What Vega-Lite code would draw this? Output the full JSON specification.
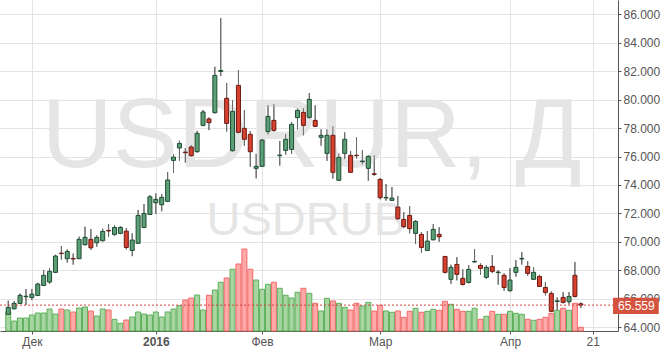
{
  "$schema": "https://vega.github.io/schema/vega-lite/v6.json",
  "width": 618,
  "height": 331,
  "autosize": {"type": "none"},
  "padding": {"left": 0, "top": 0, "right": 46, "bottom": 22},
  "background": "white",
  "config": {"view": {"stroke": null}, "font": "Liberation Sans"},
  "datasets": {
    "ohlc": [
      {"i":0,"o":64.91,"h":65.87,"l":64.88,"c":65.40,"v":19.3},
      {"i":1,"o":65.30,"h":65.84,"l":65.26,"c":65.68,"v":10},
      {"i":2,"o":65.68,"h":66.38,"l":65.63,"c":66.24,"v":13},
      {"i":3,"o":66.15,"h":66.69,"l":65.56,"c":66.18,"v":13},
      {"i":4,"o":66.10,"h":66.69,"l":65.91,"c":66.33,"v":16},
      {"i":5,"o":66.24,"h":67.13,"l":66.19,"c":67.04,"v":18},
      {"i":6,"o":66.94,"h":68.02,"l":66.90,"c":67.65,"v":18},
      {"i":7,"o":67.18,"h":68.16,"l":67.06,"c":67.93,"v":22},
      {"i":8,"o":67.86,"h":69.10,"l":67.81,"c":69.01,"v":17},
      {"i":9,"o":69.21,"h":69.71,"l":68.75,"c":69.18,"v":22},
      {"i":10,"o":68.82,"h":69.47,"l":68.54,"c":69.33,"v":21},
      {"i":11,"o":68.84,"h":69.19,"l":68.40,"c":68.80,"v":19},
      {"i":12,"o":68.82,"h":70.37,"l":68.80,"c":70.18,"v":23},
      {"i":13,"o":69.80,"h":71.07,"l":69.76,"c":70.32,"v":24},
      {"i":14,"o":70.18,"h":70.90,"l":69.45,"c":69.59,"v":20},
      {"i":15,"o":69.94,"h":70.46,"l":69.66,"c":70.32,"v":15},
      {"i":16,"o":70.08,"h":70.93,"l":70.04,"c":70.74,"v":22},
      {"i":17,"o":70.81,"h":71.26,"l":70.36,"c":70.77,"v":21},
      {"i":18,"o":70.53,"h":71.19,"l":70.41,"c":71.02,"v":11.7},
      {"i":19,"o":70.60,"h":71.11,"l":70.55,"c":71.02,"v":7.7},
      {"i":20,"o":70.76,"h":70.97,"l":69.47,"c":69.61,"v":11},
      {"i":21,"o":69.40,"h":70.60,"l":69.00,"c":70.13,"v":14},
      {"i":22,"o":69.90,"h":72.24,"l":69.88,"c":71.86,"v":19},
      {"i":23,"o":71.02,"h":72.66,"l":70.97,"c":72.00,"v":17},
      {"i":24,"o":71.93,"h":73.29,"l":71.89,"c":73.17,"v":16},
      {"i":25,"o":72.75,"h":73.41,"l":71.96,"c":72.99,"v":19},
      {"i":26,"o":72.61,"h":73.36,"l":72.15,"c":73.13,"v":14},
      {"i":27,"o":72.85,"h":74.91,"l":72.80,"c":74.35,"v":19},
      {"i":28,"o":75.73,"h":76.17,"l":74.86,"c":75.96,"v":22},
      {"i":29,"o":76.60,"h":77.11,"l":75.71,"c":76.92,"v":25.3},
      {"i":30,"o":76.31,"h":76.60,"l":75.57,"c":76.27,"v":31},
      {"i":31,"o":76.67,"h":76.81,"l":75.99,"c":76.06,"v":33},
      {"i":32,"o":76.34,"h":77.81,"l":76.27,"c":77.63,"v":36},
      {"i":33,"o":78.19,"h":79.27,"l":78.12,"c":79.13,"v":21},
      {"i":34,"o":78.64,"h":78.75,"l":77.86,"c":78.38,"v":35.7},
      {"i":35,"o":79.08,"h":82.31,"l":79.03,"c":81.70,"v":41},
      {"i":36,"o":81.98,"h":85.73,"l":81.66,"c":82.05,"v":48.7},
      {"i":37,"o":80.09,"h":81.17,"l":77.75,"c":78.33,"v":53},
      {"i":38,"o":76.41,"h":79.97,"l":76.34,"c":79.17,"v":61.7},
      {"i":39,"o":81.00,"h":82.08,"l":77.63,"c":77.70,"v":67},
      {"i":40,"o":77.98,"h":79.27,"l":76.76,"c":77.21,"v":82},
      {"i":41,"o":77.56,"h":77.79,"l":75.28,"c":76.34,"v":61.7},
      {"i":42,"o":75.17,"h":76.18,"l":74.47,"c":75.31,"v":51},
      {"i":43,"o":75.31,"h":77.23,"l":75.28,"c":77.16,"v":41.7},
      {"i":44,"o":77.75,"h":79.62,"l":77.53,"c":78.82,"v":46.7},
      {"i":45,"o":78.54,"h":79.69,"l":77.75,"c":77.84,"v":48.7},
      {"i":46,"o":76.06,"h":77.09,"l":75.36,"c":76.10,"v":42.7},
      {"i":47,"o":76.43,"h":77.58,"l":76.13,"c":77.21,"v":35.7},
      {"i":48,"o":76.50,"h":78.42,"l":76.18,"c":78.26,"v":33},
      {"i":49,"o":78.73,"h":79.39,"l":77.91,"c":79.24,"v":38.7},
      {"i":50,"o":79.10,"h":79.41,"l":77.49,"c":78.19,"v":42.7},
      {"i":51,"o":78.75,"h":80.46,"l":78.66,"c":80.02,"v":37.7},
      {"i":52,"o":78.54,"h":79.60,"l":78.07,"c":78.12,"v":27.7},
      {"i":53,"o":77.35,"h":77.91,"l":76.76,"c":77.49,"v":20},
      {"i":54,"o":76.22,"h":77.91,"l":75.70,"c":77.49,"v":32.7},
      {"i":55,"o":77.49,"h":78.14,"l":74.44,"c":74.89,"v":30},
      {"i":56,"o":74.33,"h":76.22,"l":74.28,"c":75.94,"v":27.7},
      {"i":57,"o":76.22,"h":77.70,"l":75.82,"c":77.21,"v":23.7},
      {"i":58,"o":76.08,"h":76.39,"l":74.84,"c":74.89,"v":21},
      {"i":59,"o":76.09,"h":77.35,"l":75.85,"c":76.06,"v":27.7},
      {"i":60,"o":75.64,"h":76.45,"l":75.44,"c":75.68,"v":25},
      {"i":61,"o":75.17,"h":76.09,"l":74.30,"c":76.01,"v":28.7},
      {"i":62,"o":74.79,"h":76.09,"l":74.65,"c":74.75,"v":20},
      {"i":63,"o":74.39,"h":74.49,"l":72.99,"c":73.11,"v":25.7},
      {"i":64,"o":73.09,"h":74.07,"l":72.90,"c":73.13,"v":20},
      {"i":65,"o":72.92,"h":73.86,"l":72.87,"c":73.08,"v":18.7},
      {"i":66,"o":72.45,"h":73.22,"l":71.54,"c":71.63,"v":20},
      {"i":67,"o":71.58,"h":72.10,"l":70.97,"c":71.07,"v":13.7},
      {"i":68,"o":71.86,"h":72.52,"l":70.60,"c":70.93,"v":19.7},
      {"i":69,"o":70.60,"h":71.54,"l":69.85,"c":71.44,"v":22.7},
      {"i":70,"o":70.53,"h":70.69,"l":69.24,"c":69.61,"v":18.7},
      {"i":71,"o":69.40,"h":70.76,"l":69.36,"c":70.06,"v":19.7},
      {"i":72,"o":70.15,"h":71.26,"l":70.11,"c":70.88,"v":21.7},
      {"i":73,"o":70.53,"h":71.04,"l":70.01,"c":70.36,"v":20.7},
      {"i":74,"o":68.98,"h":68.98,"l":67.79,"c":67.86,"v":29.7},
      {"i":75,"o":67.37,"h":68.40,"l":67.06,"c":68.21,"v":26.7},
      {"i":76,"o":68.42,"h":68.94,"l":67.30,"c":67.72,"v":21.7},
      {"i":77,"o":67.44,"h":68.07,"l":66.94,"c":67.01,"v":19.7},
      {"i":78,"o":67.15,"h":68.37,"l":67.08,"c":68.07,"v":19.7},
      {"i":79,"o":68.59,"h":69.50,"l":68.54,"c":68.63,"v":22.7},
      {"i":80,"o":68.35,"h":68.49,"l":67.69,"c":68.14,"v":11.7},
      {"i":81,"o":67.51,"h":68.37,"l":67.41,"c":68.21,"v":14.7},
      {"i":82,"o":68.28,"h":69.08,"l":67.81,"c":67.93,"v":19.7},
      {"i":83,"o":67.84,"h":68.02,"l":66.99,"c":67.88,"v":16.7},
      {"i":84,"o":67.65,"h":67.79,"l":66.57,"c":66.80,"v":16.7},
      {"i":85,"o":66.57,"h":68.16,"l":66.52,"c":67.32,"v":19.7},
      {"i":86,"o":67.86,"h":68.72,"l":67.55,"c":68.21,"v":17.7},
      {"i":87,"o":68.80,"h":69.29,"l":68.40,"c":68.84,"v":16.7},
      {"i":88,"o":68.28,"h":68.65,"l":67.62,"c":67.79,"v":11.7},
      {"i":89,"o":67.37,"h":68.21,"l":67.32,"c":67.86,"v":10.7},
      {"i":90,"o":67.58,"h":67.69,"l":66.83,"c":66.87,"v":11.7},
      {"i":91,"o":66.80,"h":67.18,"l":66.24,"c":66.45,"v":13.7},
      {"i":92,"o":66.38,"h":66.52,"l":65.07,"c":65.12,"v":17.7},
      {"i":93,"o":65.82,"h":66.10,"l":65.21,"c":65.86,"v":20.7},
      {"i":94,"o":66.10,"h":66.48,"l":65.68,"c":65.75,"v":22.7},
      {"i":95,"o":65.80,"h":66.48,"l":65.61,"c":66.17,"v":20.7},
      {"i":96,"o":67.65,"h":68.58,"l":66.10,"c":66.17,"v":27.7},
      {"i":97,"o":65.65,"h":65.75,"l":65.35,"c":65.56,"v":3.7}
    ]
  },
  "resolve": {"scale": {"y": "independent"}},
  "layer": [
    {
      "data": {"name": "ohlc"},
      "mark": {"type": "bar", "size": 5, "strokeWidth": 1},
      "encoding": {
        "x": {
          "field": "i",
          "type": "quantitative",
          "scale": {"domain": [-0.55, 102.45], "nice": false, "zero": false},
          "axis": {
            "title": null,
            "values": [4, 25, 43, 63, 85, 99],
            "labelExpr": "datum.value == 4 ? 'Дек' : datum.value == 25 ? '2016' : datum.value == 43 ? 'Фев' : datum.value == 63 ? 'Мар' : datum.value == 85 ? 'Апр' : '21'",
            "labelFontWeight": {"condition": {"test": "datum.value == 25", "value": "bold"}, "value": "normal"},
            "labelFont": "Liberation Sans",
            "labelFontSize": 12,
            "labelColor": "#555555",
            "labelFlush": false,
            "labelOverlap": false,
            "labelPadding": 2,
            "grid": true,
            "gridColor": "#e3e3e3",
            "gridWidth": 1,
            "domainColor": "#555555",
            "domainWidth": 1,
            "tickColor": "#555555",
            "tickSize": 3
          }
        },
        "y": {
          "field": "v",
          "type": "quantitative",
          "scale": {"domain": [0, 331], "nice": false},
          "axis": null
        },
        "fill": {"condition": {"test": "datum.c >= datum.o", "value": "#a8d6a2"}, "value": "#ffa9a9"},
        "stroke": {"condition": {"test": "datum.c >= datum.o", "value": "#5daf5b"}, "value": "#f26a6a"}
      }
    },
    {
      "layer": [
        {
          "data": {"name": "ohlc"},
          "mark": {"type": "rule", "color": "#6a6a6a", "strokeWidth": 1},
          "encoding": {
            "x": {"field": "i", "type": "quantitative"},
            "y": {
              "field": "l",
              "type": "quantitative",
              "scale": {"domain": [63.74, 87.0], "nice": false, "zero": false},
              "axis": {
                "orient": "right",
                "title": null,
                "values": [64, 66, 68, 70, 72, 74, 76, 78, 80, 82, 84, 86],
                "tickCount": 12,
                "format": ".3f",
                "labelFont": "Liberation Sans",
                "labelFontSize": 12,
                "labelColor": "#555555",
                "labelPadding": 2,
                "labelOverlap": false,
                "labelFlush": false,
                "labelBound": false,
                "grid": true,
                "gridColor": "#e3e3e3",
                "gridWidth": 1,
                "domainColor": "#555555",
                "tickColor": "#555555",
                "tickSize": 3
              }
            },
            "y2": {"field": "h"}
          }
        },
        {
          "data": {"values": [{"t": "USDRUR, Д"}]},
          "mark": {"type": "text", "font": "Liberation Sans", "fontSize": 98, "align": "center", "baseline": "alphabetic", "color": "#e5e5e5"},
          "encoding": {
            "x": {"datum": 51.4, "type": "quantitative"},
            "y": {"datum": 75.26, "type": "quantitative"},
            "text": {"field": "t"}
          }
        },
        {
          "data": {"values": [{"t": "USDRUB"}]},
          "mark": {"type": "text", "font": "Liberation Sans", "fontSize": 47, "align": "center", "baseline": "alphabetic", "color": "#e5e5e5"},
          "encoding": {
            "x": {"datum": 50.4, "type": "quantitative"},
            "y": {"datum": 70.48, "type": "quantitative"},
            "text": {"field": "t"}
          }
        },
        {
          "data": {"name": "ohlc"},
          "mark": {"type": "rule", "color": "#6a6a6a", "strokeWidth": 1},
          "encoding": {
            "x": {"field": "i", "type": "quantitative"},
            "y": {"field": "l", "type": "quantitative"},
            "y2": {"field": "h"}
          }
        },
        {
          "data": {"name": "ohlc"},
          "mark": {"type": "bar", "size": 4, "strokeWidth": 1},
          "encoding": {
            "x": {"field": "i", "type": "quantitative"},
            "y": {"field": "o", "type": "quantitative"},
            "y2": {"field": "c"},
            "fill": {"condition": {"test": "datum.c >= datum.o", "value": "#5b9e78"}, "value": "#d6402e"},
            "stroke": {"condition": {"test": "datum.c >= datum.o", "value": "#1f4d30"}, "value": "#6b1a12"}
          }
        },
        {
          "data": {"values": [{"p": 65.559}]},
          "mark": {"type": "rule", "color": "#d0453a", "strokeWidth": 1, "strokeDash": [2, 2]},
          "encoding": {
            "y": {"field": "p", "type": "quantitative"}
          }
        },
        {
          "data": {"values": [{"p": 65.559}]},
          "mark": {"type": "rect", "color": "#d4523e", "clip": false},
          "encoding": {
            "x": {"datum": 102.45, "type": "quantitative"},
            "x2": {"datum": 110.2},
            "y": {"datum": 66.07, "type": "quantitative"},
            "y2": {"datum": 64.93}
          }
        },
        {
          "data": {"values": [{"p": 65.559}]},
          "mark": {"type": "text", "font": "Liberation Sans", "fontSize": 12, "align": "center", "baseline": "middle", "color": "white", "clip": false},
          "encoding": {
            "x": {"datum": 106.4, "type": "quantitative"},
            "y": {"datum": 65.5, "type": "quantitative"},
            "text": {"field": "p", "format": ".3f"}
          }
        }
      ]
    }
  ]
}
